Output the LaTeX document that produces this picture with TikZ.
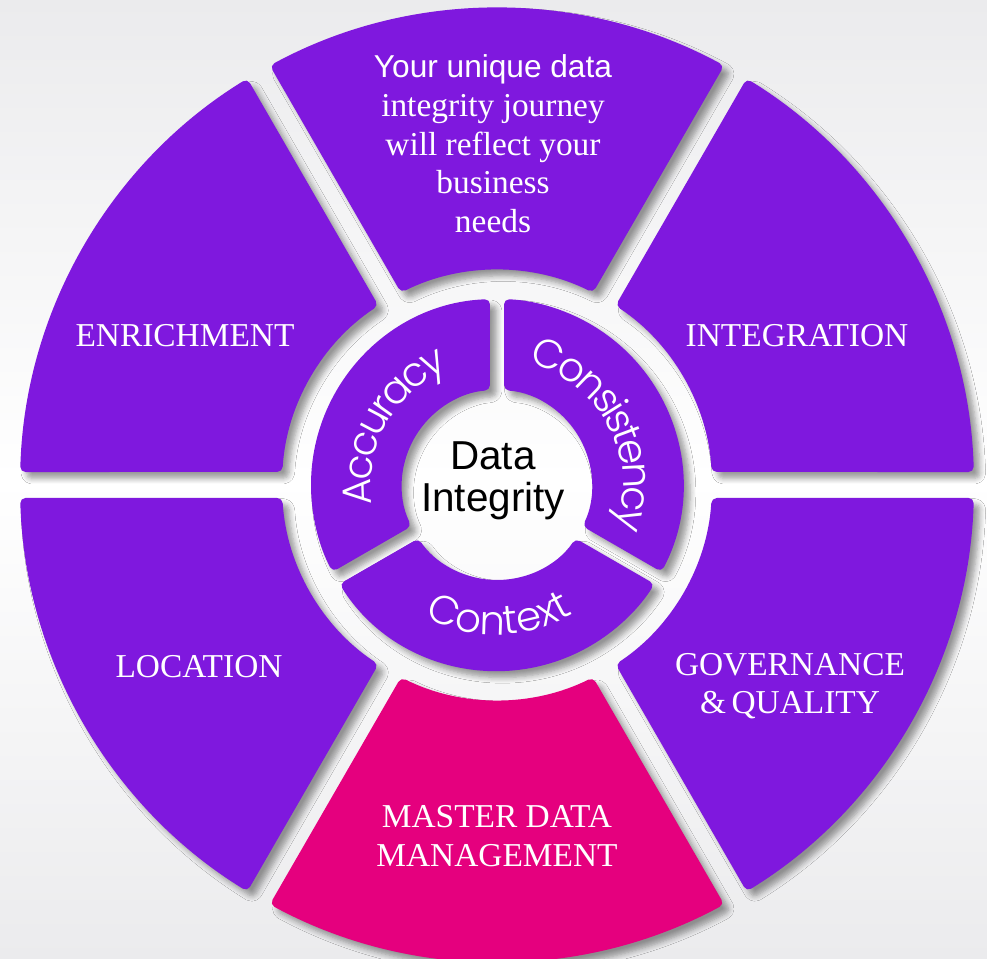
\documentclass[tikz,border=0pt]{standalone}
\usepackage{fontspec}
\setmainfont{Liberation Serif}
\newfontfamily\arialfont{Liberation Sans}
\newfontfamily\geofont{Poppins Light}
\usepackage{tikz}
\usetikzlibrary{positioning, decorations.text, shadows.blur}
\definecolor{ringpurple}{HTML}{7F18DE}
\definecolor{ringpink}{HTML}{E5007E}
\definecolor{bggray}{HTML}{EBEBED}

\tikzset{
  ringseg/.style={fill=ringpurple, rounded corners=1.5pt,
    blur shadow={shadow xshift=1.8pt, shadow yshift=-1.8pt, shadow blur steps=6, shadow blur radius=1.6pt, shadow opacity=40}},
  outerlabel/.style={text=white, font=\fontsize{9.5}{11}\selectfont, align=center},
  curvelabel/.style 2 args={decorate, decoration={text along path, text align=center,
    text={|\geofont\fontsize{11.5}{14}\selectfont\color{white}\kern#2|#1}}}
}

\begin{document}
\begin{tikzpicture}
% background
\fill[top color=bggray, bottom color=bggray, middle color=white] (-4.97,-4.74) rectangle (4.90,4.85);
\useasboundingbox (-4.97,-4.74) rectangle (4.90,4.85);

% outer ring, six sectors
\foreach \a/\b/\col in {0/60/ringpurple, 60/120/ringpurple, 120/180/ringpurple, 180/240/ringpurple, 240/300/ringpink, 300/360/ringpurple}{
\fill[ringseg, fill=\col] ({\a+1.56}:4.77) arc[start angle={\a+1.56}, end angle={\b-1.56}, radius=4.77]
  -- ({\b-3.47}:2.15) arc[start angle={\b-3.47}, end angle={\a+3.47}, radius=2.15] -- cycle;
}

% inner ring, three sectors
\foreach \a/\b in {90/210, 210/330, -30/90}{
\fill[ringseg] ({\a+2.16}:1.86) arc[start angle={\a+2.16}, end angle={\b-2.16}, radius=1.86]
  -- ({\b-4.23}:0.95) arc[start angle={\b-4.23}, end angle={\a+4.23}, radius=0.95] -- cycle;
}

% labels of the outer ring
\node[outerlabel] (journey) at (-0.04,3.41) {{\arialfont\fontsize{9}{10.8}\selectfont Your unique data}\\integrity journey\\will reflect your\\business\\needs};
\node[outerlabel] (enrich) at (-3.12,1.49) {ENRICHMENT};
\node[outerlabel] (integ) at (3.00,1.49) {INTEGRATION};
\node[outerlabel] (location) at (-2.98,-1.82) {LOCATION};
\node[outerlabel] (govern) at (2.93,-2.01) {GOVERNANCE\\\&\,QUALITY};
\node[outerlabel] (mdm) at (0,-3.51) {MASTER DATA\\MANAGEMENT};

% labels of the inner ring
\path[curvelabel={Accuracy}{-0.9pt}] (205:1.26) arc[start angle=205, end angle=95, radius=1.26];
\path[curvelabel={Consistency}{-1.0pt}] (82:1.26) arc[start angle=82, end angle=-28, radius=1.26];
\path[curvelabel={Context}{0pt}] (216:1.50) arc[start angle=216, end angle=326, radius=1.50];

\node[font=\arialfont\fontsize{11.5}{12}\selectfont, align=center] (core) at (-0.04,0.04) {Data\\Integrity};
\end{tikzpicture}
\end{document}
